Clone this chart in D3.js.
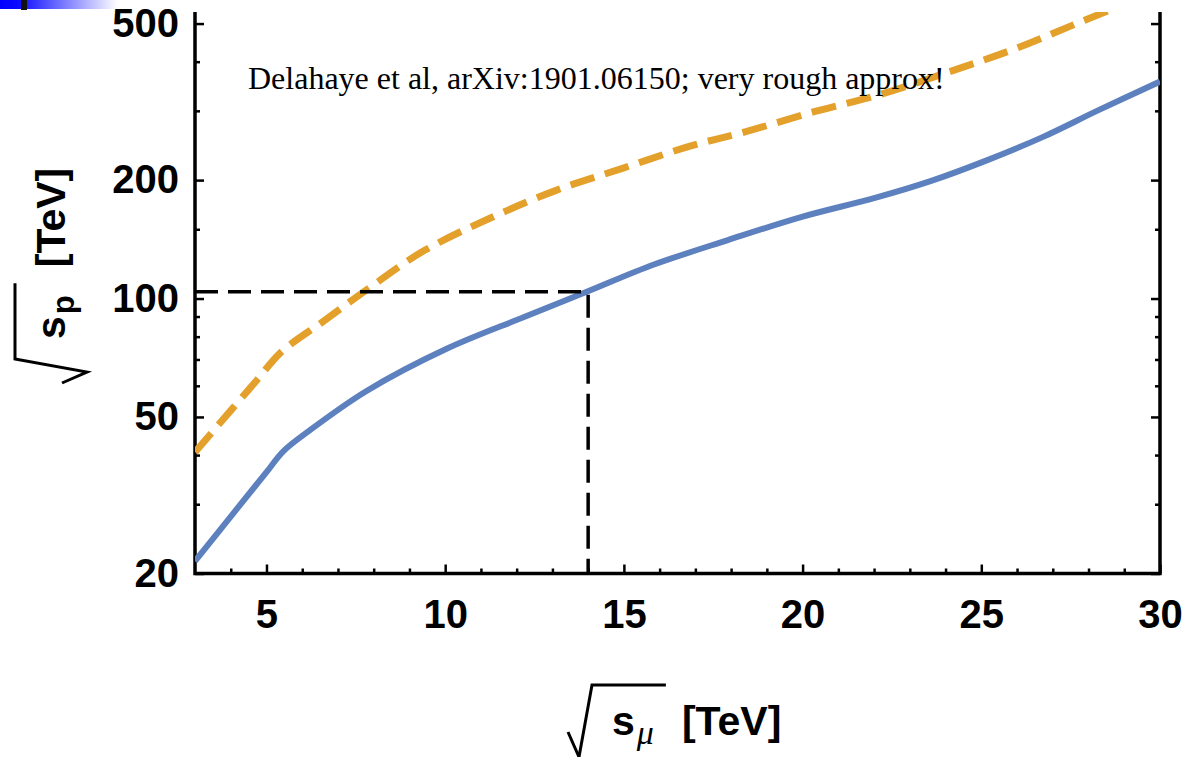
<!DOCTYPE html>
<html>
<head>
<meta charset="utf-8">
<script src="https://cdn.jsdelivr.net/npm/d3@7"></script>
<style>
  html, body { margin: 0; padding: 0; background: #fff; }
  svg { display: block; }
</style>
</head>
<body>
<svg id="chart" width="1184" height="757"></svg>
<script>
// sqrt(s_mu) in TeV, solid blue curve
var blueX = [3, 4.2, 5.0, 5.47, 6.22, 7.8, 10.04, 12.19, 13.96, 15.84, 17.91, 19.98, 22.05, 23.62, 25.17, 26.73, 28.28, 30];
// sqrt(s_p) in TeV
var blueY = [21.5, 29.4, 36.2, 40.9, 46.3, 58.2, 74.5, 89.6, 104, 122, 140.8, 161.3, 180.5, 199.4, 224.8, 257.6, 301.2, 356];

// dashed orange curve
var orangeX = [3, 4.07, 4.73, 5.41, 6.59, 7.8, 9.39, 11.25, 13.12, 14.98, 16.85, 18.44, 20.3, 22.17, 24.03, 25.9, 27.76, 30];
var orangeY = [40.7, 52.8, 62.0, 73.1, 87.5, 105.2, 132, 160, 188.6, 214.6, 244, 266, 298, 330, 375, 430, 504, 610];

var refPoint = [14, 104];

var xMajor = [5, 10, 15, 20, 25, 30];
var xMinor = d3.range(4, 30).filter(function(v) { return v % 5 !== 0; });
var yMajor = [20, 50, 100, 200, 500];
var yMinor = [30, 40, 60, 70, 80, 90, 150, 300, 400];

var note = "Delahaye et al, arXiv:1901.06150; very rough approx!";

var W = 1184, H = 757;
var margin = {top: 12, right: 24, bottom: 183.5, left: 195};
var svg = d3.select("#chart");

var x = d3.scaleLinear().domain([3, 30]).range([margin.left, W - margin.right]);
var y = d3.scaleLog().domain([20, 535]).range([H - margin.bottom, margin.top]);

// slide decoration top-left
var defs = svg.append("defs");
var grad = defs.append("linearGradient").attr("id", "barGrad");
grad.append("stop").attr("offset", "0%").attr("stop-color", "#0000ff");
grad.append("stop").attr("offset", "15%").attr("stop-color", "#0a0aff");
grad.append("stop").attr("offset", "100%").attr("stop-color", "#ffffff");
svg.append("rect").attr("x", 0).attr("y", 0).attr("width", 118).attr("height", 9)
  .attr("fill", "url(#barGrad)");
svg.append("rect").attr("x", 21).attr("y", 0).attr("width", 6).attr("height", 10)
  .attr("fill", "#111");

defs.append("clipPath").attr("id", "plotClip")
  .append("rect")
  .attr("x", margin.left).attr("y", margin.top)
  .attr("width", x.range()[1] - margin.left)
  .attr("height", y.range()[0] - margin.top);

var tickFont = "'Liberation Sans', Arial, sans-serif";

function styleAxis(g) {
  g.attr("font-family", tickFont).attr("font-size", 40).attr("font-weight", "bold");
  g.select(".domain").remove();
  g.selectAll(".tick line").attr("stroke", "#000").attr("stroke-width", 2.5);
}

// minor ticks first
svg.append("g").attr("transform", "translate(0," + y.range()[0] + ")")
  .call(d3.axisBottom(x).tickValues(xMinor).tickSize(-5).tickFormat(""))
  .call(styleAxis);
svg.append("g").attr("transform", "translate(" + margin.left + ",0)")
  .call(d3.axisLeft(y).tickValues(yMinor).tickSize(-5).tickFormat(""))
  .call(styleAxis);
svg.append("g").attr("transform", "translate(" + x.range()[1] + ",0)")
  .call(d3.axisRight(y).tickValues(yMinor).tickSize(-5).tickFormat(""))
  .call(styleAxis);

// major ticks
svg.append("g").attr("transform", "translate(0," + y.range()[0] + ")")
  .call(d3.axisBottom(x).tickValues(xMajor).tickSize(-9).tickPadding(26).tickFormat(d3.format("d")))
  .call(styleAxis);
svg.append("g").attr("transform", "translate(" + margin.left + ",0)")
  .call(d3.axisLeft(y).tickValues(yMajor).tickSize(-9).tickPadding(16).tickFormat(d3.format("d")))
  .call(styleAxis);
svg.append("g").attr("transform", "translate(" + x.range()[1] + ",0)")
  .call(d3.axisRight(y).tickValues(yMajor).tickSize(-9).tickFormat(""))
  .call(styleAxis);

// frame (left, bottom, right)
svg.append("path")
  .attr("d", "M" + margin.left + "," + margin.top + "V" + y.range()[0] + "H" + x.range()[1] + "V" + margin.top)
  .attr("fill", "none").attr("stroke", "#000").attr("stroke-width", 3.5)
  .attr("stroke-linejoin", "miter");

var plot = svg.append("g").attr("clip-path", "url(#plotClip)");

var line = d3.line()
  .x(function(d) { return x(d[0]); })
  .y(function(d) { return y(d[1]); })
  .curve(d3.curveCatmullRom.alpha(0.5));

plot.append("path")
  .datum(d3.zip(blueX, blueY))
  .attr("d", line)
  .attr("fill", "none").attr("stroke", "#5d81be").attr("stroke-width", 6);

plot.append("path")
  .datum(d3.zip(orangeX, orangeY))
  .attr("d", line)
  .attr("fill", "none").attr("stroke", "#e3a02a").attr("stroke-width", 7)
  .attr("stroke-dasharray", "25,11");

// reference lines at the 100 TeV point
var refLine = d3.line().x(function(d) { return x(d[0]); }).y(function(d) { return y(d[1]); });
plot.append("path")
  .datum([[3, refPoint[1]], refPoint, [refPoint[0], 20]])
  .attr("d", refLine)
  .attr("fill", "none").attr("stroke", "#000").attr("stroke-width", 3.5)
  .attr("stroke-dasharray", "23,10");

svg.append("text")
  .attr("x", 248).attr("y", 89)
  .attr("font-family", "'Liberation Serif', 'Times New Roman', serif")
  .attr("font-size", 32)
  .attr("fill", "#000")
  .text(note);

// axis titles: radical sign, s with subscript, [TeV]
function rootLabel(g, sub, subItalic) {
  var fs = 41;
  var s = g.append("text").attr("x", 44).attr("y", 0)
    .attr("font-family", tickFont).attr("font-size", fs).attr("font-weight", "bold")
    .text("s");
  var sEnd = 44 + s.node().getComputedTextLength();
  var sb = g.append("text").attr("x", sEnd + 2).attr("y", 9)
    .attr("font-family", subItalic ? "'Liberation Serif', serif" : tickFont)
    .attr("font-size", subItalic ? 34 : 31)
    .attr("font-weight", subItalic ? "normal" : "bold")
    .attr("font-style", subItalic ? "italic" : "normal")
    .text(sub);
  var subEnd = sEnd + 2 + sb.node().getComputedTextLength();
  var barEnd = subEnd + 12;
  g.append("path")
    .attr("d", "M0,-3L11,22L24,-50H" + barEnd)
    .attr("fill", "none").attr("stroke", "#000").attr("stroke-width", 3);
  g.append("text").attr("x", barEnd + 16).attr("y", 0)
    .attr("font-family", tickFont).attr("font-size", fs).attr("font-weight", "bold")
    .text("[TeV]");
}

rootLabel(svg.append("g").attr("transform", "translate(568,735)"), "\u03bc", true);
rootLabel(svg.append("g").attr("transform", "translate(65,383) rotate(-90)"), "p", false);
</script>
</body>
</html>
